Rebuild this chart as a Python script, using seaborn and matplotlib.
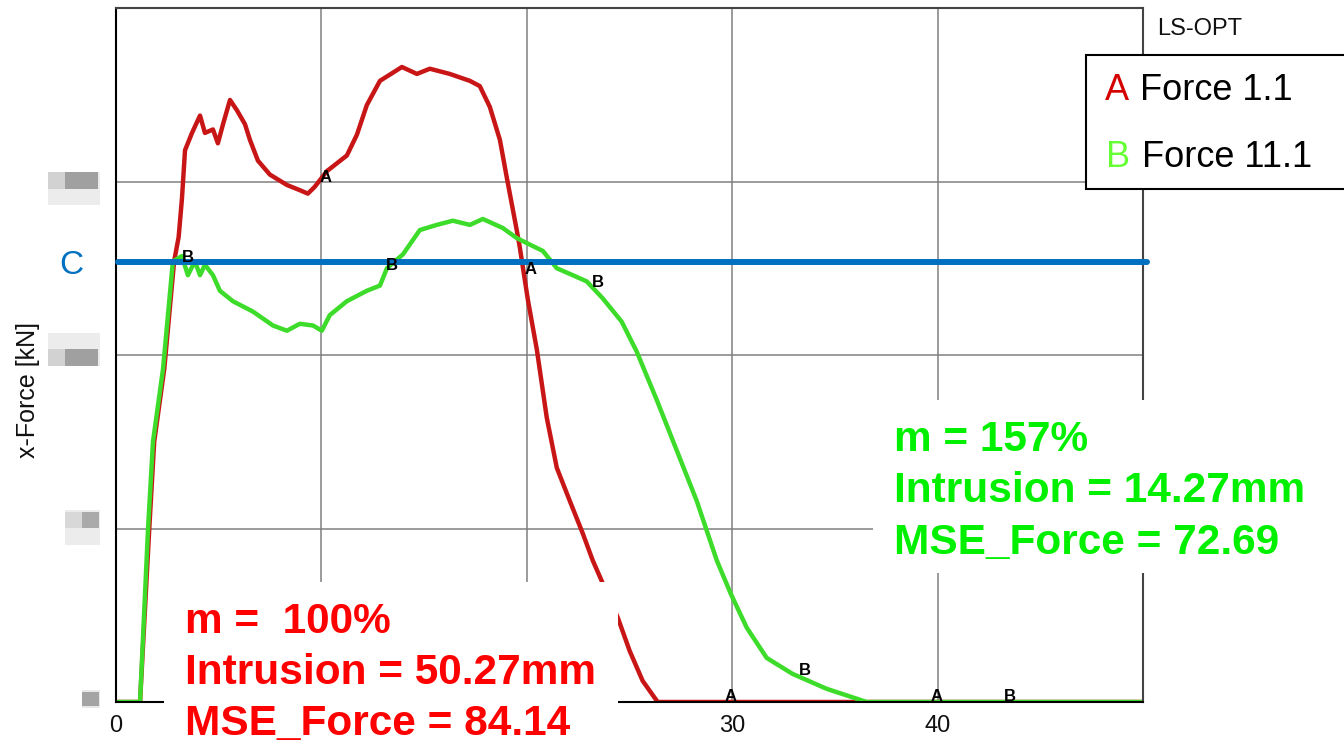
import seaborn as sns
import matplotlib.pyplot as plt
import pandas as pd
from matplotlib.patches import Rectangle

# curve data (displacement [mm], force [kN])
red_x = [0, 1.17, 1.62, 1.86, 2.35, 2.83, 3.05, 3.21, 3.36, 3.70,
         4.09, 4.33, 4.72, 4.96, 5.21, 5.55, 5.89, 6.28, 6.52, 6.91,
         7.49, 8.32, 8.95, 9.34, 9.68, 10.27, 11.24, 11.73, 12.21, 12.85,
         13.92, 14.65, 15.28, 16.25, 17.23, 17.71, 18.20, 18.69, 19.03, 19.51,
         19.66, 20.05, 20.49, 20.97, 21.46, 22.09, 22.73, 23.21, 24.43, 25.01,
         25.64, 26.37, 50]
red_y = [0, 0, 50, 75, 96, 127, 134, 145, 159, 164,
         169, 164, 165, 161, 166.5, 173.5, 170.5, 166.5, 162, 156,
         152, 149, 147.5, 146.5, 148.5, 153, 157.5, 163.5, 172, 179,
         183, 181, 182.5, 181, 179, 177.5, 171.5, 162, 151, 136,
         131, 116, 101.5, 82, 67.5, 58, 48.5, 40.8, 24.3, 14.7,
         6.1, 0, 0]

green_x = [0, 1.17, 1.56, 1.80, 2.29, 2.77, 3.21, 3.50, 3.84, 4.09,
           4.33, 4.72, 5.06, 5.69, 6.67, 7.64, 8.32, 8.95, 9.59, 10.02,
           10.41, 11.24, 12.21, 12.85, 13.19, 13.97, 14.79, 15.62, 16.40, 17.23,
           17.86, 18.83, 19.51, 20.29, 20.78, 21.46, 22.24, 22.92, 23.70, 24.62,
           25.35, 26.33, 27.30, 28.27, 29.25, 29.93, 30.71, 31.68, 32.94, 34.60,
           36.55, 50]
green_y = [0, 0, 50, 75, 96, 127, 128.5, 123, 127, 123,
           126, 123, 118.5, 115.5, 112.5, 108.5, 107, 109, 108.5, 107,
           111.5, 115.5, 118.5, 120, 125, 129, 136, 137.5, 138.7, 137.5,
           139.2, 136.6, 133.7, 131.4, 130, 125, 123, 121.2, 116.3, 109.6,
           101, 87, 72.5, 58, 40.8, 31.2, 21.4, 12.7, 8.1, 3.8,
           0, 0]

curve_names = ['Force 1.1', 'Force 11.1']
curve_letters = ['A', 'B']
c_level = 126.7  # target force level "C"

# curve id letters along the lines
a_x = [10.22, 20.19, 29.93, 39.95]
a_y = [151.2, 124.6, 1.7, 1.7]
b_x = [3.5, 13.43, 23.45, 33.53, 43.5]
b_y = [128.0, 125.7, 120.8, 9.2, 1.7]

x_major = [0, 10, 20, 30, 40]
x_labels = ['0', '', '', '30', '40']  # 10 and 20 sit under the result panel
x_minor = [5, 15, 25, 35, 45]
y_major = [0, 50, 100, 150]
y_minor = [25, 75, 125, 175]

red_text = ['m =  100%', 'Intrusion = 50.27mm', 'MSE_Force = 84.14']
green_text = ['m = 157%', 'Intrusion = 14.27mm', 'MSE_Force = 72.69']

df = pd.concat([
    pd.DataFrame({'disp': red_x, 'force': red_y, 'curve': curve_names[0]}),
    pd.DataFrame({'disp': green_x, 'force': green_y, 'curve': curve_names[1]}),
])

sns.set_style('white')
plt.rcParams['font.family'] = ['Liberation Sans', 'DejaVu Sans']

W, H = 1344, 743


def fx(px):
    return px / W


def fy(py):
    return 1 - py / H


fig = plt.figure(figsize=(13.44, 7.43), dpi=100)
ax = fig.add_axes([fx(116), fy(702), fx(1143) - fx(116), fy(8) - fy(702)])

line_colors = {curve_names[0]: '#c81616', curve_names[1]: '#3ddc2a'}
sns.lineplot(data=df, x='disp', y='force', hue='curve', hue_order=curve_names,
             palette=line_colors, estimator=None, sort=False, lw=3.2,
             legend=False, ax=ax)

ax.set_xlim(0, 50)
ax.set_ylim(0, 200)
ax.set_xticks(x_major)
ax.set_xticklabels(x_labels)
ax.set_xticks(x_minor, minor=True)
ax.set_yticks(y_major)
ax.set_yticks(y_minor, minor=True)
ax.set_yticklabels([])
ax.set_xlabel('')
ax.set_ylabel('')
ax.grid(True, which='major', color='#808080', lw=1.1)
ax.tick_params(axis='x', which='major', direction='in', length=6, width=1.1,
               labelsize=17, pad=9, color='black', labelcolor='#111111')
ax.tick_params(axis='x', which='minor', direction='in', length=7, width=1.1,
               color='black')
ax.tick_params(axis='y', which='major', direction='inout', length=12, width=1.1,
               color='black')
ax.tick_params(axis='y', which='minor', direction='in', length=7, width=1.1,
               color='black')
for side in ['left', 'bottom']:
    ax.spines[side].set_color('black')
    ax.spines[side].set_linewidth(1.5)
for side in ['top', 'right']:
    ax.spines[side].set_color('#444444')
    ax.spines[side].set_linewidth(1.5)

# level line C
ax.axhline(c_level, xmin=0.002, xmax=1.004, color='#0070c0', lw=4.3,
           clip_on=False, zorder=4)

for x, y in zip(a_x, a_y):
    ax.text(x, y, curve_letters[0], ha='center', va='center', fontsize=12,
            fontweight='bold', color='black', zorder=5)
for x, y in zip(b_x, b_y):
    ax.text(x, y, curve_letters[1], ha='center', va='center', fontsize=12,
            fontweight='bold', color='black', zorder=5)


def add_box(x0, y0, x1, y1, color, edge='none', lw=0):
    fig.add_artist(Rectangle((fx(x0), fy(y1)), (x1 - x0) / W, (y1 - y0) / H,
                             transform=fig.transFigure, facecolor=color,
                             edgecolor=edge, lw=lw, zorder=2))


# blurred-out y tick labels
for box in [(48, 172, 100, 205, '#ececec'), (48, 172, 65, 189, '#d2d2d2'),
            (65, 172, 98, 189, '#a0a0a0'),
            (48, 333, 100, 366, '#ececec'), (48, 349, 65, 366, '#d2d2d2'),
            (65, 349, 98, 366, '#a0a0a0'),
            (65, 510, 100, 545, '#ececec'), (65, 512, 82, 528, '#d8d8d8'),
            (82, 512, 99, 528, '#aaaaaa'),
            (82, 690, 100, 708, '#e8e8e8'), (82, 692, 99, 706, '#a4a4a4')]:
    add_box(*box)

# white panels behind the result texts and the legend
add_box(164, 582, 618, 745, 'white')
add_box(873, 400, 1350, 573, 'white')
add_box(1086, 55, 1360, 189, 'white', edge='black', lw=1.5)

for i, line in enumerate(red_text):
    fig.text(fx(185), fy(633 + 51 * i), line, color='#ff0000', fontsize=30.5,
             fontweight='bold', ha='left', va='baseline', zorder=6)
for i, line in enumerate(green_text):
    fig.text(fx(894), fy(451 + 51.5 * i), line, color='#00f000', fontsize=30.5,
             fontweight='bold', ha='left', va='baseline', zorder=6)

# legend entries
fig.text(fx(1105), fy(100), curve_letters[0], color='#d40000', fontsize=26,
         ha='left', va='baseline', zorder=6)
fig.text(fx(1140), fy(100), curve_names[0], color='black', fontsize=26,
         ha='left', va='baseline', zorder=6)
fig.text(fx(1106), fy(167), curve_letters[1], color='#66ff33', fontsize=26,
         ha='left', va='baseline', zorder=6)
fig.text(fx(1142), fy(167), curve_names[1], color='black', fontsize=26,
         ha='left', va='baseline', zorder=6)

fig.text(fx(1157), fy(35), 'LS-OPT', color='#111111', fontsize=17,
         ha='left', va='baseline')
fig.text(fx(59), fy(274), 'C', color='#0070c0', fontsize=24,
         ha='left', va='baseline')
fig.text(fx(28), fy(390), 'x-Force [kN]', rotation=90, fontsize=18,
         ha='center', va='center', color='#111111')

fig.savefig('out.png', dpi=100)
